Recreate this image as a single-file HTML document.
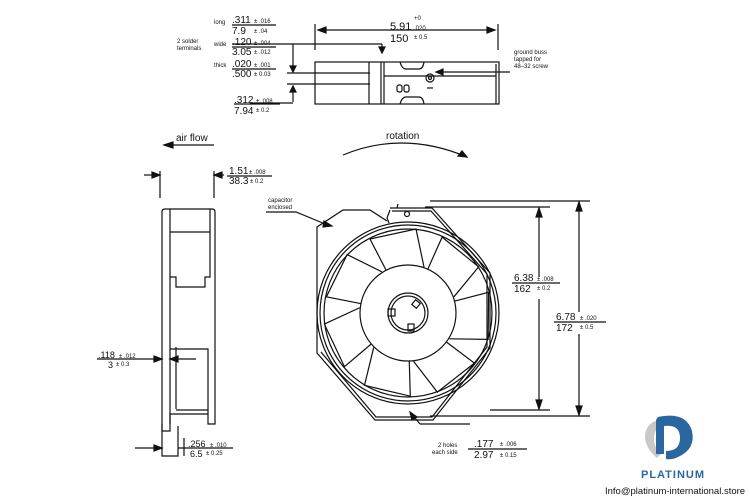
<!DOCTYPE html>
<html><head><style>
body{margin:0;background:#fff}
svg{display:block}
text{font-family:"Liberation Sans",sans-serif;fill:#111}
</style></head><body>
<svg width="750" height="500" viewBox="0 0 750 500" xmlns="http://www.w3.org/2000/svg" stroke="#111" fill="none" stroke-width="1.2">
<!-- TOP VIEW -->
<g stroke="none" fill="#111">
<text x="214" y="24" font-size="6">long</text>
<text x="232" y="23" font-size="10">.311</text><text x="254" y="23" font-size="6">± .016</text>
<text x="232" y="34" font-size="10">7.9</text><text x="254" y="33" font-size="6">± .04</text>
<text x="177" y="43" font-size="6">2 solder</text><text x="177" y="50" font-size="6">terminals</text>
<text x="214" y="46" font-size="6">wide</text>
<text x="232" y="45" font-size="10">.120</text><text x="254" y="45" font-size="6">± .004</text>
<text x="232" y="55" font-size="10">3.05</text><text x="254" y="54" font-size="6">± .012</text>
<text x="214" y="67" font-size="6">thick</text>
<text x="232" y="67" font-size="10">.020</text><text x="254" y="67" font-size="6">± .001</text>
<text x="232" y="77" font-size="10">.500</text><text x="254" y="76" font-size="6">± 0.03</text>
<text x="234" y="103" font-size="10">.312</text><text x="256" y="103" font-size="6">± .008</text>
<text x="234" y="114" font-size="10">7.94</text><text x="256" y="112" font-size="6">± 0.2</text>
<text x="390" y="30" font-size="11">5.91</text><text x="414" y="20" font-size="6">+0</text><text x="414" y="30" font-size="6">.020</text>
<text x="390" y="42" font-size="11">150</text><text x="414" y="39" font-size="6">± 0.5</text>
<text x="514" y="54" font-size="6">ground buss</text><text x="514" y="61" font-size="6">tapped for</text><text x="514" y="68" font-size="6">48–32 screw</text>
</g>
<line x1="232" y1="25" x2="276" y2="25"/><line x1="232" y1="47" x2="276" y2="47"/><line x1="232" y1="69" x2="276" y2="69"/>
<line x1="234" y1="104" x2="280" y2="104"/>
<line x1="315" y1="24" x2="315" y2="50"/><line x1="498" y1="24" x2="498" y2="50"/>
<line x1="318" y1="30" x2="495" y2="30"/>
<path d="M318 30 l8 -3 v6z M495 30 l-8 -3 v6z" fill="#111"/>
<line x1="232" y1="44" x2="382" y2="44"/><line x1="382" y1="44" x2="382" y2="52"/><path d="M379 47 l3 6 3 -6z" fill="#111"/>
<line x1="293" y1="44" x2="293" y2="72"/><path d="M290 66 l3 6 3 -6z" fill="#111"/>
<line x1="287" y1="73" x2="370" y2="73"/><line x1="287" y1="84" x2="370" y2="84"/>
<line x1="293" y1="86" x2="293" y2="102"/><path d="M290 92 l3 -6 3 6z" fill="#111"/>
<line x1="250" y1="103" x2="293" y2="103"/>
<rect x="315" y="62" width="184" height="42"/>
<line x1="369" y1="62" x2="369" y2="104"/><line x1="381" y1="62" x2="381" y2="104"/><line x1="384" y1="62" x2="384" y2="104"/>
<line x1="384" y1="76" x2="496" y2="76"/><line x1="496" y1="64" x2="496" y2="104"/>
<path d="M400 62 q2 7 6 7 h13 q4 0 5 -7 M400 104 q2 -7 6 -7 h13 q4 0 5 7"/>
<circle cx="430" cy="78" r="4"/><circle cx="430" cy="78" r="1.5"/><line x1="427" y1="88" x2="433" y2="88"/>
<rect x="397" y="85" width="5" height="7" rx="2"/><rect x="404" y="85" width="5" height="7" rx="2"/>
<line x1="436" y1="72" x2="510" y2="72"/><path d="M436 72 l7 -3 v6z" fill="#111"/>
<!-- air flow / rotation -->
<text x="176" y="141" font-size="10" stroke="none">air flow</text>
<line x1="164" y1="145" x2="214" y2="145"/><path d="M164 145 l9 -3 v6z" fill="#111"/>
<text x="386" y="139" font-size="10" stroke="none">rotation</text>
<path d="M343 155 q60 -25 124 2"/><path d="M467 157 l-9 -1 4 -5z" fill="#111"/>
<!-- SIDE VIEW -->
<line x1="160" y1="171" x2="160" y2="198"/><line x1="214" y1="171" x2="214" y2="198"/>
<line x1="144" y1="175" x2="160" y2="175"/><path d="M160 175 l-8 -3 v6z" fill="#111"/>
<line x1="214" y1="175" x2="224" y2="175"/><path d="M214 175 l8 -3 v6z" fill="#111"/>
<g stroke="none"><text x="229" y="174" font-size="10">1.51</text><text x="249" y="174" font-size="6">± .008</text>
<text x="229" y="184" font-size="10">38.3</text><text x="250" y="183" font-size="6">± 0.2</text></g>
<line x1="227" y1="176" x2="272" y2="176"/>
<path d="M162 212 q0 -3 3 -3 h47 q3 0 3 3 v212 h-7 v-10 h-38 v17 h-8z"/>
<line x1="170" y1="209" x2="170" y2="424"/>
<path d="M170 232 h40 v-23 M210 232 v45 h-5 v10 h-29 v-10 h-6"/>
<path d="M170 349 h38 v65 M176 347 v62"/>
<line x1="176" y1="410" x2="208" y2="410"/>
<g stroke="none"><text x="98" y="358" font-size="9">.118</text><text x="119" y="358" font-size="6">± .012</text>
<text x="108" y="368" font-size="9">3</text><text x="116" y="366" font-size="6">± 0.3</text></g>
<line x1="97" y1="359" x2="160" y2="359"/><path d="M162 359 l-8 -3 v6z" fill="#111"/>
<line x1="172" y1="359" x2="196" y2="359"/><path d="M170 359 l8 -3 v6z" fill="#111"/>
<line x1="135" y1="448" x2="160" y2="448"/><path d="M162 448 l-8 -3 v6z" fill="#111"/>
<path d="M162 424 v32 h16 v-30 M178 448 l8 0"/>
<line x1="184" y1="438" x2="184" y2="456"/>
<g stroke="none"><text x="188" y="447" font-size="9">.256</text><text x="210" y="447" font-size="6">± .010</text>
<text x="190" y="457" font-size="9">6.5</text><text x="206" y="455" font-size="6">± 0.25</text></g>
<line x1="186" y1="448" x2="233" y2="448"/>
<!-- FRONT VIEW -->
<g stroke="none"><text x="268" y="202" font-size="6">capacitor</text><text x="268" y="209" font-size="6">enclosed</text></g>
<path d="M266 212 h30 l34 14"/><path d="M332 226 l-8 -5 -1 6z" fill="#111"/>
<path d="M390 208 h42 l58 65 v75 l-57 72 h-58 l-58 -67 v-95"/>
<path d="M392 211 h39 l56 63 v73 l-55 70 h-56 l-55 -65"/>
<path d="M317 258 v-31 l26 -17 h27 l17 11"/>
<path d="M390 210 l-3 8 l2 5 M397 208 l1 -4"/>
<circle cx="407" cy="214" r="2.5"/>
<circle cx="408" cy="313" r="91"/><circle cx="408" cy="313" r="88"/><circle cx="408" cy="313" r="84"/>
<circle cx="408" cy="313" r="48"/><circle cx="408" cy="313" r="20"/><circle cx="408" cy="313" r="17"/>
<rect x="388" y="309" width="7" height="7"/><rect x="413" y="301" width="6" height="6" transform="rotate(40 416 304)"/><rect x="408" y="324" width="6" height="7"/>
<g transform="translate(408 313)">
<g id="bl"><path d="M-22 -43 L-38 -74 L8 -84 L16 -46"/></g>
<use href="#bl" transform="rotate(51.4)"/>
<use href="#bl" transform="rotate(102.8)"/>
<use href="#bl" transform="rotate(154.2)"/>
<use href="#bl" transform="rotate(205.6)"/>
<use href="#bl" transform="rotate(257)"/>
<use href="#bl" transform="rotate(308.4)"/>
</g>
<line x1="425" y1="207" x2="550" y2="207"/><line x1="490" y1="410" x2="550" y2="410"/>
<line x1="539" y1="208" x2="539" y2="409"/><path d="M539 208 l-3 9 h6z M539 409 l-3 -9 h6z" fill="#111"/>
<line x1="430" y1="201" x2="590" y2="201"/><line x1="430" y1="416" x2="590" y2="416"/>
<line x1="579" y1="202" x2="579" y2="415"/><path d="M579 202 l-3 9 h6z M579 415 l-3 -9 h6z" fill="#111"/>
<rect x="512" y="277" width="48" height="22" fill="#fff" stroke="none"/>
<g stroke="none"><text x="514" y="281" font-size="10">6.38</text><text x="537" y="281" font-size="6">± .008</text>
<text x="514" y="292" font-size="10">162</text><text x="537" y="290" font-size="6">± 0.2</text></g>
<line x1="512" y1="283" x2="560" y2="283"/>
<rect x="554" y="312" width="54" height="22" fill="#fff" stroke="none"/>
<g stroke="none"><text x="556" y="320" font-size="10">6.78</text><text x="580" y="320" font-size="6">± .020</text>
<text x="556" y="331" font-size="10">172</text><text x="580" y="329" font-size="6">± 0.5</text></g>
<line x1="554" y1="322" x2="606" y2="322"/>
<path d="M420 424 l-10 -12"/><path d="M410 412 l2 8 5 -3z" fill="#111"/>
<line x1="420" y1="424" x2="470" y2="424"/><line x1="468" y1="449" x2="527" y2="449"/>
<g stroke="none"><text x="438" y="447" font-size="6">2 holes</text><text x="432" y="454" font-size="6">each side</text>
<text x="474" y="447" font-size="10">.177</text><text x="500" y="446" font-size="6">± .006</text>
<text x="474" y="458" font-size="10">2.97</text><text x="500" y="457" font-size="6">± 0.15</text></g>
<!-- LOGO -->
<g stroke="none">
<path d="M660 420 q-14 2 -15 16 q0 12 12 22 l4 -4 q-8 -8 -7 -17 q1 -10 10 -12z" fill="#c8c8c8"/>
<path d="M658 417 q28 -6 34 14 q4 18 -14 26 q-6 3 -12 2 l0 -8 q14 0 14 -13 q0 -14 -16 -12 v28 h-8 v-34z" fill="#2a66a0"/>
<text x="641" y="478" font-size="11" font-weight="bold" style="fill:#2a66a0;letter-spacing:1px">PLATINUM</text>
<text x="605" y="494" font-size="9.5">Info@platinum-international.store</text>
</g>
</svg>
</body></html>
